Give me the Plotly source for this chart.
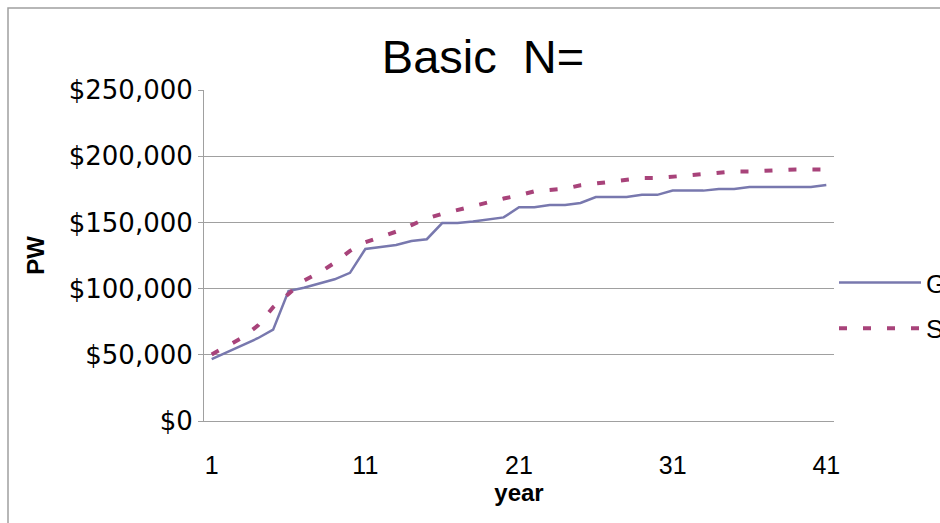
import plotly.graph_objects as go

years = list(range(1, 42))
g_vals = [46700, 51800, 57100, 62500, 69000, 98200, 100700, 103800, 107000, 111900,
          129900, 131400, 133000, 136000, 137300, 149500, 149500, 150700, 152500, 153800,
          161400, 161400, 163200, 163200, 164700, 169200, 169200, 169200, 170800, 170800,
          174000, 174000, 174000, 175300, 175300, 176800, 176800, 176800, 176800, 176800,
          178300]
s_vals = [50300, 56500, 63000, 72000, 86000, 96000, 106000, 112000, 119500, 128500,
          135000, 139000, 143000, 148000, 153000, 156500, 159500, 162000, 165000, 168000,
          170500, 173500, 174500, 175500, 178000, 179500, 180500, 182500, 183500, 183500,
          184500, 185500, 186500, 187500, 188500, 188500, 189000, 190000, 190000, 190000,
          190000]
series_names = ["G", "S"]
y_ticks = [0, 50000, 100000, 150000, 200000, 250000]
y_ticktext = ["$0", "$50,000", "$100,000", "$150,000", "$200,000", "$250,000"]
x_ticks = [1, 11, 21, 31, 41]

fig = go.Figure()
fig.add_trace(go.Scatter(x=years, y=g_vals, mode="lines", name=series_names[0],
                         legendgroup="g",
                         line=dict(color="#7878ae", width=2.5)))
fig.add_trace(go.Scatter(x=years, y=s_vals, mode="lines", name=series_names[1],
                         legendgroup="s",
                         line=dict(color="#a8437a", width=4, dash="8px,16px")))

fig.update_layout(
    width=940, height=523,
    margin=dict(l=204, r=106, t=90, b=102, autoexpand=False),
    paper_bgcolor="white", plot_bgcolor="white",
    title=dict(text="Basic  N=", x=483/940, xref="container", xanchor="center",
               y=1 - 57/523, yref="container", yanchor="middle",
               font=dict(family="Liberation Sans, Arial", size=47, color="black")),
    showlegend=True,
    legend=dict(x=(834 - 204) / 630, y=(421 - 259) / 331, xanchor="left", yanchor="top",
                font=dict(family="Liberation Sans, Arial", size=26, color="black"),
                itemwidth=82, tracegroupgap=9, bgcolor="rgba(0,0,0,0)"),
    xaxis=dict(range=[0.5, 41.5], tickmode="array", tickvals=x_ticks,
               ticktext=[str(v) for v in x_ticks], showgrid=False, zeroline=False,
               showline=True, linecolor="#a0a0a0", linewidth=1, ticks="",
               ticklabelstandoff=22,
               tickfont=dict(family="Liberation Sans, Arial", size=25, color="black"),
               title=dict(text="<b>year</b>", standoff=0,
                          font=dict(family="Liberation Sans, Arial", size=24, color="black"))),
    yaxis=dict(range=[0, 250000], tickmode="array", tickvals=y_ticks, ticktext=y_ticktext,
               showgrid=True, gridcolor="#a0a0a0", gridwidth=1, zeroline=False,
               showline=True, linecolor="#a0a0a0", linewidth=1,
               ticks="outside", ticklen=5, tickcolor="#a0a0a0",
               tickfont=dict(family="DejaVu Sans", size=26, color="black"),
               title=dict(text="<b>PW</b>", standoff=17,
                          font=dict(family="Liberation Sans, Arial", size=24, color="black"))),
)

# outer chart border
fig.add_shape(type="rect", xref="paper", yref="paper",
              x0=(8 - 204) / 630, x1=2.0, y0=-1.0, y1=(421 - 8) / 331,
              line=dict(color="#a0a0a0", width=1.5), fillcolor="rgba(0,0,0,0)", layer="below")

fig.write_html("out.html")
